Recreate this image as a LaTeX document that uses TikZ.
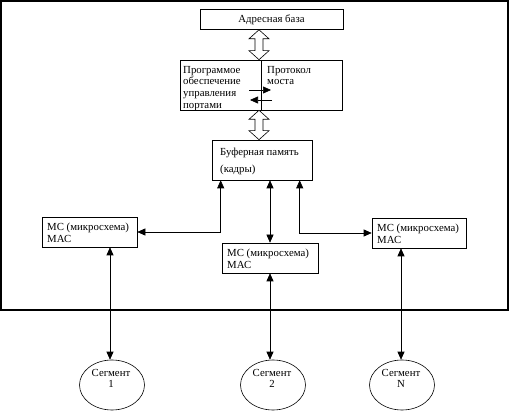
\documentclass[tikz,border=0pt]{standalone}
\usepackage{fontspec}
\setmainfont{Liberation Serif}
\usetikzlibrary{arrows.meta,shapes.geometric,calc}
\begin{document}
\begin{tikzpicture}[x=1pt,y=-1pt,
  font=\fontsize{10.8}{11.6}\selectfont,
  box/.style={draw, line width=0.6pt, rectangle, inner sep=0pt},
  con/.style={line width=0.6pt, {Triangle[length=8pt,width=7pt]}-{Triangle[length=8pt,width=7pt]}},
  one/.style={line width=0.6pt, -{Triangle[length=8pt,width=7pt]}},
  seg/.style={draw, ellipse, line width=0.6pt, minimum width=65pt, minimum height=50pt, inner sep=0pt},
  lbl/.style={inner sep=0pt, anchor=north west, align=left},
  clbl/.style={inner sep=0pt, anchor=north, align=center},
  hollow/.style={draw, fill=white, line width=0.6pt}]
\useasboundingbox (0,0) rectangle (511,411);
\draw[line width=1.2pt] (1,1) rectangle (508,310);

% address base
\node[box, minimum width=143pt, minimum height=20pt] (ab) at (271.5,19.5) {Адресная база};

% program box
\node[box, minimum width=81pt, minimum height=50pt] (pl) at (220.5,85) {};
\node[box, minimum width=81pt, minimum height=50pt] (pr) at (301.5,85) {};
\node[lbl] (plt) at (183,66) {Программое\\обеспечение\\управления\\портами};
\node[lbl] (prt) at (267,66) {Протокол\\моста};
\coordinate (a1s) at (249,90);
\coordinate (a1e) at (271,90);
\coordinate (a2s) at (272,100);
\coordinate (a2e) at (250,100);
\draw[one] (a1s) -- (a1e);
\draw[one] (a2s) -- (a2e);

% buffer
\node[box, minimum width=100pt, minimum height=40pt] (buf) at (262,160) {};
\node[lbl] (buft) at (220,148) {Буферная память\\[5pt](кадры)};

% hollow double arrows
\coordinate (h1t) at (ab.south -| 259,0);
\coordinate (h1b) at (pl.north -| 259,0);
\coordinate (h2t) at (pl.south -| 259,0);
\coordinate (h2b) at (buf.north -| 259,0);
\path[hollow] let \p1=(h1t), \p2=(h1b) in
  (\x1,\y1) -- (\x1+10pt,\y1-9pt) -- (\x1+4pt,\y1-9pt) -- (\x1+4pt,\y2+9pt) -- (\x1+10pt,\y2+9pt)
  -- (\x2,\y2) -- (\x1-10pt,\y2+9pt) -- (\x1-4pt,\y2+9pt) -- (\x1-4pt,\y1-9pt) -- (\x1-10pt,\y1-9pt) -- cycle;
\path[hollow] let \p1=(h2t), \p2=(h2b) in
  (\x1,\y1) -- (\x1+10pt,\y1-9pt) -- (\x1+4pt,\y1-9pt) -- (\x1+4pt,\y2+9pt) -- (\x1+10pt,\y2+9pt)
  -- (\x2,\y2) -- (\x1-10pt,\y2+9pt) -- (\x1-4pt,\y2+9pt) -- (\x1-4pt,\y1-9pt) -- (\x1-10pt,\y1-9pt) -- cycle;

% MAC boxes
\node[box, minimum width=95pt, minimum height=30pt] (mc1) at (89.5,232) {};
\node[lbl] (mc1t) at (47,223) {МС (микросхема)\\МАС};
\node[box, minimum width=96pt, minimum height=30pt] (mc2) at (270,258) {};
\node[lbl] (mc2t) at (227,249) {МС (микросхема)\\МАС};
\node[box, minimum width=94pt, minimum height=30pt] (mc3) at (419,233) {};
\node[lbl] (mc3t) at (377,224) {МС (микросхема)\\МАС};

% buffer connections
\coordinate (b1) at ($(buf.south west)+(9,0)$);
\coordinate (b3) at ($(buf.south west)+(88,0)$);
\draw[con] (b1) |- (mc1.east);
\draw[con] (mc2.north |- buf.south) -- (mc2.north);
\draw[con] (b3) |- (mc3.west);

% segments
\node[seg] (s1) at (112,385) {};
\node[clbl] (s1t) at (111,369) {Сегмент\\1};
\node[seg] (s2) at (273,385) {};
\node[clbl] (s2t) at (272,369) {Сегмент\\2};
\node[seg] (s3) at (402,385) {};
\node[clbl] (s3t) at (401,369) {Сегмент\\N};

\draw[con] (mc1.south -| 110,0) -- (s1.north -| 110,0);
\draw[con] (mc2.south) -- (s2.north -| mc2.south);
\draw[con] (mc3.south -| 401,0) -- (s3.north -| 401,0);
\end{tikzpicture}
\end{document}
